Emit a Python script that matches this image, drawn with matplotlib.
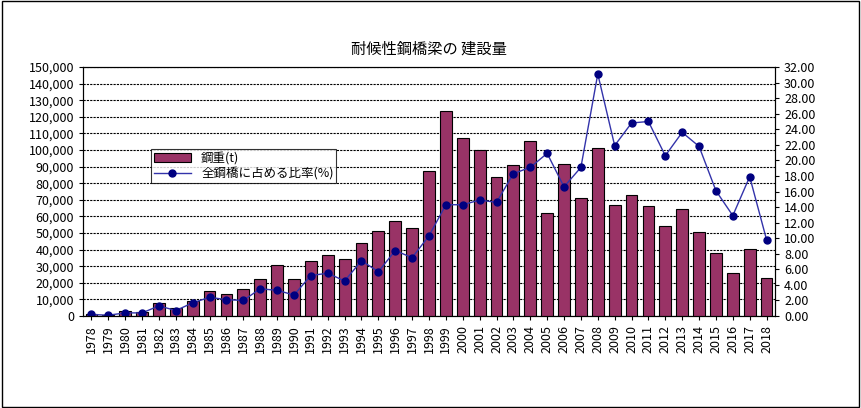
import matplotlib
matplotlib.use("Agg")
import matplotlib.pyplot as plt
from matplotlib.ticker import FuncFormatter, MultipleLocator

years = list(range(1978, 2019))
weight = [1000, 500, 3000, 2500, 8000, 5000, 9000, 15000, 13000, 16500,
          22500, 30500, 22500, 33000, 37000, 34500, 44000, 51000, 57000, 53000,
          87500, 123500, 107000, 100000, 83500, 91000, 105500, 62000, 91500, 71000,
          101000, 67000, 73000, 66500, 54000, 64500, 50500, 38000, 26000, 40500, 23000]
ratio = [0.2, 0.1, 0.4, 0.4, 1.3, 0.7, 1.7, 2.4, 2.1, 2.0,
         3.5, 3.3, 2.7, 5.2, 5.5, 4.5, 7.1, 5.7, 8.4, 7.5,
         10.3, 14.3, 14.3, 14.9, 14.6, 18.3, 19.1, 20.9, 16.6, 19.1,
         31.1, 21.9, 24.8, 25.0, 20.6, 23.6, 21.8, 16.1, 12.9, 17.9, 9.8]

plt.rcParams["font.family"] = ["Noto Sans CJK JP"]
fig = plt.figure(figsize=(8.62, 4.08), dpi=100)
fig.patches.append(plt.Rectangle((0.002, 0.003), 0.995, 0.994, transform=fig.transFigure,
                                 fill=False, edgecolor="black", linewidth=1))
ax = fig.add_axes([83/862, 1-316/408, 692/862, 249/408])
x = list(range(len(years)))
b = ax.bar(x, weight, width=0.7, color="#993366", edgecolor="black", linewidth=0.8, label="鋼重(t)", zorder=3)
ax.set_xlim(-0.5, len(years)-0.5)
ax.set_ylim(0, 150000)
ax.yaxis.set_major_locator(MultipleLocator(10000))
ax.yaxis.set_major_formatter(FuncFormatter(lambda v, p: f"{int(v):,}"))
ax.grid(axis="y", linestyle=(0, (2, 1)), color="black", linewidth=0.8, zorder=0)
ax.set_xticks(x)
ax.set_xticklabels([str(y) for y in years], rotation=90)
ax.tick_params(labelsize=9, length=3)
ax2 = ax.twinx()
l, = ax2.plot(x, ratio, color="#3333aa", linewidth=1, marker="o", markersize=5,
              markerfacecolor="#000080", markeredgecolor="#000080", label="全鋼橋に占める比率(%)")
ax2.set_ylim(0, 32)
ax2.yaxis.set_major_locator(MultipleLocator(2))
ax2.yaxis.set_major_formatter(FuncFormatter(lambda v, p: f"{v:.2f}"))
ax2.tick_params(labelsize=9, length=3)
ax.set_title("耐候性鋼橋梁の 建設量", fontsize=11, pad=10)
leg = ax.legend([b, l], ["鋼重(t)", "全鋼橋に占める比率(%)"], loc="upper left",
                bbox_to_anchor=((145-83)/692, (316-143)/249), fancybox=False,
                edgecolor="black", fontsize=9, borderpad=0.2, handlelength=3, labelspacing=0.2)
leg.get_frame().set_linewidth(0.8)
fig.savefig("out.png", dpi=100)
